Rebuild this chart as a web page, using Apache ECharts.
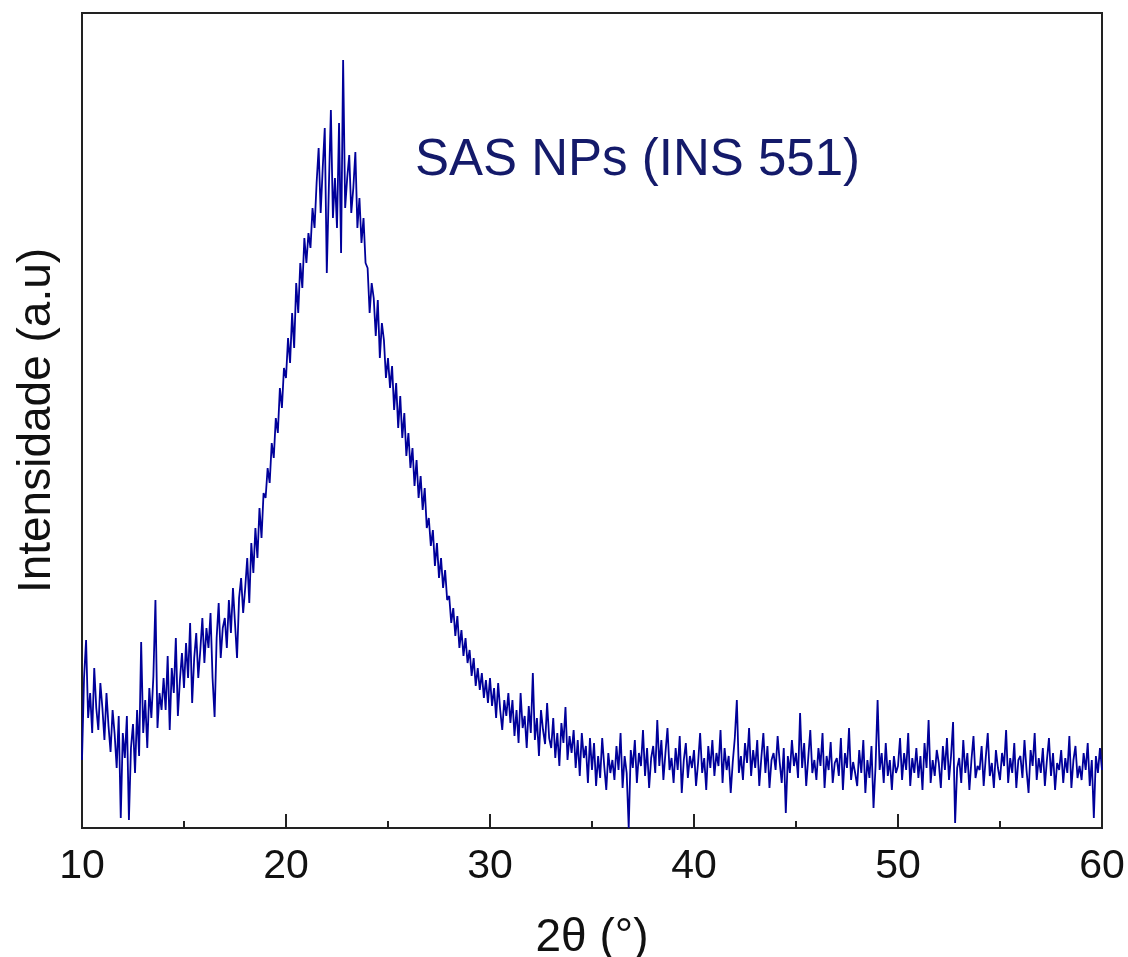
<!DOCTYPE html>
<html>
<head>
<meta charset="utf-8">
<title>SAS NPs (INS 551)</title>
<script src="https://cdn.jsdelivr.net/npm/echarts@6/dist/echarts.min.js"></script>
<style>
  html, body { margin: 0; padding: 0; background: #fff; }
  #chart { width: 1128px; height: 957px; }
</style>
</head>
<body>
<div id="chart"></div>
<script>
// 2θ grid of the scan: 10° to 60°, one reading every 0.1°
const startAngle = 10
const stepAngle = 0.1

// intensities (a.u.), one decade per array
const counts10s = [
  68, 150, 188, 110, 135, 95, 160, 120, 98, 145,
  120, 88, 135, 102, 76, 118, 94, 60, 112, 10,
  95, 70, 112, 8, 80, 104, 55, 118, 72, 186,
  95, 128, 80, 140, 110, 152, 228, 100, 135, 118,
  150, 118, 172, 98, 160, 135, 190, 112, 148, 175,
  140, 185, 150, 205, 125, 170, 195, 150, 178, 210,
  165, 200, 180, 215, 150, 111, 190, 225, 170, 200,
  210, 180, 228, 195, 240, 205, 170, 230, 250, 215,
  240, 270, 225, 285, 255, 300, 270, 320, 290, 335,
  330, 360, 345, 385, 370, 410, 395, 440, 420, 460
]
const counts20s = [
  450, 490, 465, 515, 480, 545, 515, 565, 540, 590,
  565, 595, 580, 620, 600, 645, 680, 615, 660, 700,
  555, 640, 718, 610, 650, 600, 705, 575, 768, 620,
  650, 673, 615, 640, 676, 600, 630, 585, 610, 565,
  560, 515, 545, 530, 492, 528, 470, 505, 488, 450,
  470, 440, 462, 418, 445, 400, 432, 390, 415, 372,
  395, 360, 380, 342, 368, 330, 352, 318, 340, 300,
  310, 282, 298, 262, 285, 250, 270, 240, 258, 228,
  232, 205, 220, 192, 212, 180, 198, 172, 190, 165,
  178, 152, 170, 142, 160, 138, 155, 130, 148, 125
]
const counts30s = [
  150, 122, 140, 110, 145, 118, 98, 128, 112, 135,
  105, 128, 92, 118, 85, 135, 100, 112, 80, 122,
  95, 155, 88, 110, 72, 118, 98, 84, 125, 90,
  80, 110, 70, 95, 62, 105, 85, 121, 68, 92,
  75, 98, 60, 88, 52, 95, 70, 82, 45, 90,
  58, 85, 42, 72, 50, 90, 62, 38, 75, 55,
  68, 48, 82, 58, 95, 40, 72, 55, 0, 78,
  60, 88, 45, 75, 62, 98, 52, 80, 40, 70,
  82, 55, 108, 62, 88, 48, 75, 100, 58, 70,
  45, 80, 58, 92, 35, 68, 85, 50, 72, 60
]
const counts40s = [
  78, 42, 65, 95, 55, 70, 38, 82, 60, 88,
  52, 75, 62, 98, 45, 80, 58, 72, 35, 66,
  90, 128, 55, 72, 48, 85, 65, 100, 52, 78,
  60, 88, 42, 70, 95, 55, 82, 40, 68, 75,
  58, 92, 66, 45, 80, 15, 72, 55, 88, 62,
  75, 50, 115, 60, 85, 42, 70, 98, 55, 68,
  48, 80, 62, 95, 40, 72, 58, 86, 45, 65,
  70, 52, 90, 38, 75, 60, 100, 48, 66, 55,
  42, 78, 55, 88, 35, 68, 50, 82, 20, 62,
  128, 58, 75, 45, 85, 52, 68, 38, 72, 55
]
const counts50s = [
  62, 90, 48, 75, 58, 95, 42, 70, 55, 80,
  50, 72, 38, 85, 60, 108, 45, 68, 52, 78,
  65, 40, 82, 58, 90, 48, 72, 106, 5, 60,
  70, 45, 88, 55, 75, 38, 68, 92, 50, 62,
  58, 82, 42, 70, 95, 52, 65, 40, 78, 60,
  48, 75, 62, 98, 45, 70, 55, 85, 40, 68,
  72, 50, 88, 58, 35, 78, 62, 95, 48, 70,
  55, 80, 42, 68, 90, 52, 75, 38, 65, 58,
  78, 45, 70, 55, 92, 40, 68, 82, 50, 62,
  48, 75, 58, 85, 42, 68, 10, 72, 55, 80,
  58
]

const xTicks = [10, 20, 30, 40, 50, 60]
const sampleName = 'SAS NPs (INS 551)'

const intensity = [].concat(counts10s, counts20s, counts30s, counts40s, counts50s)
const points = intensity.map((v, i) => [+(startAngle + i * stepAngle).toFixed(1), v])

const chart = echarts.init(document.getElementById('chart'))
chart.setOption({
  animation: false,
  backgroundColor: '#fff',
  title: {
    text: sampleName,
    left: 410,
    top: 130,
    textStyle: {
      color: '#141a6a',
      fontSize: 51,
      fontWeight: 'normal',
      fontFamily: 'Liberation Sans, Arial, sans-serif'
    }
  },
  grid: {
    left: 82,
    right: 26,
    top: 13,
    bottom: 129,
    outerBoundsMode: 'none',
    show: true,
    borderColor: '#222',
    borderWidth: 2
  },
  xAxis: {
    type: 'value',
    min: xTicks[0],
    max: xTicks[xTicks.length - 1],
    interval: 10,
    name: '2θ (°)',
    nameLocation: 'middle',
    nameGap: 87,
    nameTextStyle: {
      color: '#111',
      fontSize: 46,
      fontFamily: 'Liberation Sans, Arial, sans-serif'
    },
    axisLine: { show: true, lineStyle: { color: '#222', width: 2 } },
    axisTick: { show: true, inside: true, length: 14, lineStyle: { color: '#222', width: 2 } },
    minorTick: { show: true, splitNumber: 2, length: 7, lineStyle: { color: '#222', width: 2 } },
    axisLabel: {
      color: '#111',
      fontSize: 41,
      margin: 18,
      fontFamily: 'Liberation Sans, Arial, sans-serif'
    },
    splitLine: { show: false }
  },
  yAxis: {
    type: 'value',
    min: 0,
    max: 815,
    name: 'Intensidade (a.u)',
    nameLocation: 'middle',
    nameGap: 22,
    nameTextStyle: {
      color: '#111',
      fontSize: 46,
      fontFamily: 'Liberation Sans, Arial, sans-serif'
    },
    axisLine: { show: true, lineStyle: { color: '#222', width: 2 } },
    axisTick: { show: false },
    axisLabel: { show: false },
    splitLine: { show: false }
  },
  series: [
    {
      type: 'line',
      data: points,
      showSymbol: false,
      symbol: 'none',
      sampling: 'none',
      lineStyle: { color: '#00009a', width: 1.8 }
    }
  ]
})
</script>
</body>
</html>
